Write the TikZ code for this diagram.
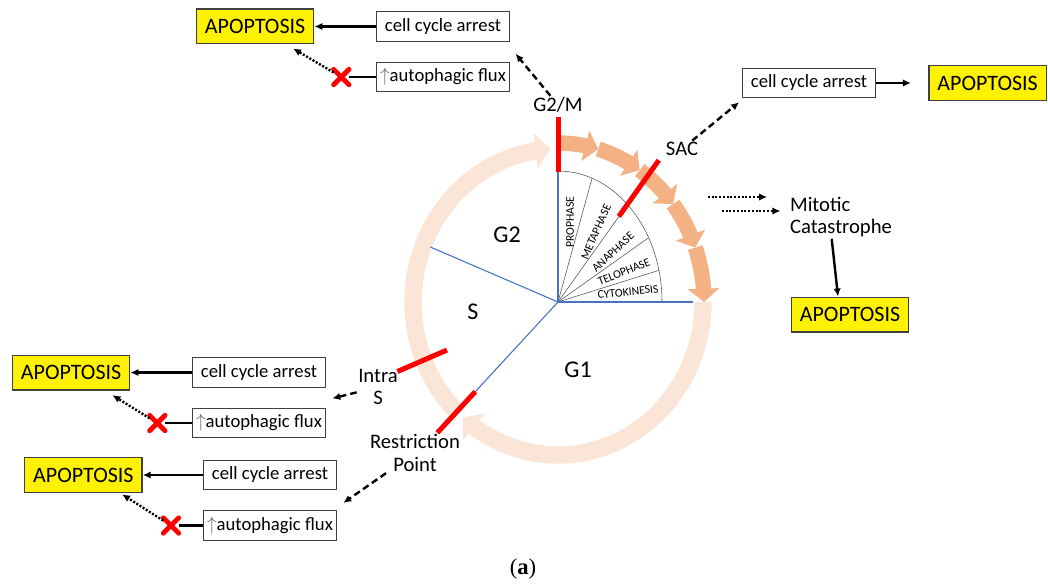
\documentclass[tikz,border=0pt]{standalone}
\usepackage{fontspec}
\setmainfont{Carlito}
\newfontfamily\serifcap{Liberation Serif}
\usepackage{tikz}
\usetikzlibrary{arrows.meta,bending,calc,positioning,shapes.misc}
\definecolor{naranja}{RGB}{244,177,131}
\definecolor{rosado}{RGB}{251,229,214}
\definecolor{azul}{RGB}{68,114,196}
\tikzstyle{apop}=[rectangle,draw=black!75,fill=yellow,line width=1pt,minimum width=88pt,minimum height=26pt,inner sep=2pt,font=\fontsize{16.5}{18}\selectfont]
\tikzstyle{caja}=[rectangle,draw=black!75,fill=white,line width=0.9pt,minimum width=100pt,minimum height=22pt,inner sep=2pt,font=\fontsize{14}{15}\selectfont]
\tikzstyle{etiqueta}=[align=center,inner sep=1pt,font=\fontsize{15.5}{17}\selectfont]
\tikzstyle{region}=[inner sep=0pt,font=\fontsize{18}{20}\selectfont]
\tikzstyle{fase}=[inner sep=0pt,font=\fontsize{8.8}{9}\selectfont]
\tikzstyle{cruz}=[cross out,draw=red,line width=3.6pt,line cap=round,minimum size=8pt,inner sep=0pt]
\tikzstyle{flecha}=[->,line width=1.8pt]
\tikzstyle{discontinua}=[->,line width=1.8pt,dash pattern=on 5pt off 3pt]
\tikzstyle{punteada}=[->,line width=1.8pt,dash pattern=on 1.5pt off 1.3pt]
\tikzstyle{checkpoint}=[red,line width=3.75pt]
\tikzstyle{limite}=[azul,line width=0.8pt]
\tikzstyle{sector}=[black!70,line width=0.4pt]

\begin{document}
\begin{tikzpicture}[x=0.75pt,y=0.75pt,>={Latex[length=6pt,width=5.5pt]}]
	\useasboundingbox (0,0) rectangle (1048,587);
	\coordinate (c) at (558,285);
	% ciclo
	\draw[rosado,line width=13pt,-{Triangle[width=26pt,length=11pt]}] ($(c)+(0:145 and 153)$) arc[start angle=0,end angle=-131,x radius=145,y radius=153];
	\draw[rosado,line width=13pt,-{Triangle[width=26pt,length=11pt]}] ($(c)+(-133:145 and 153)$) arc[start angle=-133,end angle=-267,x radius=145,y radius=153];
	\foreach \a/\b in {90/74,74/56,56/38,38/20,20/0}
		\draw[naranja,line width=11.5pt,-{Triangle[width=23pt,length=10pt]}] ($(c)+(\a:146 and 159)$) arc[start angle=\a,end angle=\b,x radius=146,y radius=159];
	% mitosis
	\draw[sector] ($(c)+(90:104 and 131)$) arc[start angle=90,end angle=0,x radius=104,y radius=131];
	\foreach \t in {70.9,48.1,29.4,14}
		\draw[sector] (c) -- ($(c)+(\t:104 and 131)$);
	\draw[limite] (c) -- ++(90:130);
	\draw[limite] (c) -- ++(0:135);
	\draw[limite] (c) -- ++(156.7:139);
	\draw[limite] (c) -- ++(227.3:122);
	\node[fase,rotate=90](pro) at ($(c)+(12,80)$) {PROPHASE};
	\node[fase,rotate=66](meta) at ($(c)+(38,70)$) {METAPHASE};
	\node[fase,rotate=43](ana) at ($(c)+(55,50)$) {ANAPHASE};
	\node[fase,rotate=22](telo) at ($(c)+(66,30)$) {TELOPHASE};
	\node[fase,rotate=6](cito) at ($(c)+(70,10)$) {CYTOKINESIS};
	\node[region](g2) at ($(c)+(-51,67)$) {G2};
	\node[region](s) at ($(c)+(-85,-10)$) {S};
	\node[region](g1) at ($(c)+(20,-68)$) {G1};
	\draw[checkpoint] ($(c)+(90:130)$) -- ($(c)+(90:185)$);
	\draw[checkpoint] ($(c)+(54.6:105)$) -- ($(c)+(54.6:174)$);
	\draw[checkpoint] ($(c)+(203.4:121)$) -- ($(c)+(203.4:175)$);
	\draw[checkpoint] ($(c)+(227.3:122)$) -- ($(c)+(227.3:178)$);
	% G2/M
	\node[etiqueta](g2m) at (558,482) {G2/M};
	\node[caja](cca1) at (443,560.5) {cell cycle arrest};
	\node[caja](flux1)[below=15pt of cca1] {\textcolor{black!60}{$\uparrow$}autophagic flux};
	\node[apop](apo1)[left=46pt of cca1] {APOPTOSIS};
	\node[cruz](x1)[left=20pt of flux1] {};
	\draw[flecha](cca1) -- (apo1);
	\draw[line width=1.8pt](flux1) -- (x1);
	\draw[punteada](x1) -- ([xshift=-16pt,yshift=-3pt]apo1.south east);
	\draw[discontinua](g2m) -- ([xshift=4pt,yshift=-9pt]cca1.south east);
	% SAC
	\node[etiqueta](sac) at (682,438) {SAC};
	\node[caja](cca2) at (809,504) {cell cycle arrest};
	\node[apop](apo2)[right=39pt of cca2] {APOPTOSIS};
	\draw[flecha,shorten >=13pt](cca2) -- (apo2);
	\draw[discontinua](sac) -- ([xshift=-2pt,yshift=-3pt]cca2.south west);
	% catastrofe mitotica
	\node[etiqueta,align=left](mc) at (841,370) {Mitotic\\Catastrophe};
	\coordinate (m1) at (708,390);
	\coordinate (m2) at (722,376);
	\draw[punteada](m1) -- ([xshift=-16pt,yshift=15pt]mc.west);
	\draw[punteada](m2) -- ([xshift=-6pt,yshift=4.5pt]mc.west);
	\node[apop](apo3) at (850,272.5) {APOPTOSIS};
	\draw[flecha]([xshift=-7pt]mc.south) -- ([xshift=-9pt]apo3.north);
	% intra S
	\node[etiqueta](intra) at (378,200) {Intra\\S};
	\node[caja](cca3) at (259,214.5) {cell cycle arrest};
	\node[caja](flux3)[below=15pt of cca3] {\textcolor{black!60}{$\uparrow$}autophagic flux};
	\node[apop](apo4)[left=46pt of cca3] {APOPTOSIS};
	\node[cruz](x3)[left=20pt of flux3] {};
	\draw[flecha](cca3) -- (apo4);
	\draw[line width=1.8pt](flux3) -- (x3);
	\draw[punteada](x3) -- ([xshift=-13.5pt,yshift=-3.5pt]apo4.south east);
	\draw[discontinua](intra) -- ([xshift=4.5pt,yshift=-8pt]cca3.south east);
	% punto de restriccion
	\node[etiqueta](rp) at (415,134) {Restriction\\Point};
	\node[caja](cca4) at (270,112) {cell cycle arrest};
	\node[caja](flux4)[below=15pt of cca4] {\textcolor{black!60}{$\uparrow$}autophagic flux};
	\node[apop](apo5)[left=45pt of cca4] {APOPTOSIS};
	\node[cruz](x4)[left=18pt of flux4] {};
	\draw[flecha](cca4) -- (apo5);
	\draw[line width=1.8pt](flux4) -- (x4);
	\draw[punteada](x4) -- ([xshift=-15.5pt,yshift=-1pt]apo5.south east);
	\draw[discontinua](rp) -- ([xshift=4.5pt,yshift=-9.5pt]cca4.south east);
	\node[font=\serifcap\fontsize{17}{20}\selectfont](cap) at (523,18) {(\textbf{a})};
\end{tikzpicture}
\end{document}
